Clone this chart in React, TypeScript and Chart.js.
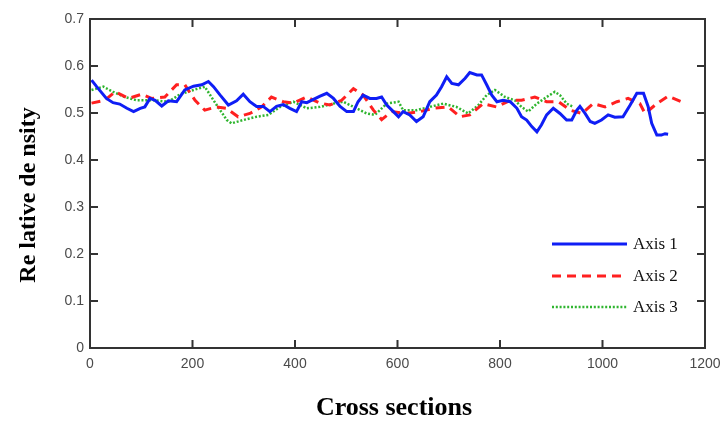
import React, { useEffect, useRef } from "react";
import { Chart, registerables } from "chart.js";

Chart.register(...registerables);

const seriesNames = ["Axis 1", "Axis 2", "Axis 3"];

const axis1X = [3, 13, 32, 45, 58, 72, 85, 98, 107, 117, 127, 140, 153, 169, 185, 202, 218, 231, 241, 254, 270, 286, 299, 312, 325, 338, 351, 364, 377, 390, 403, 413, 423, 436, 449, 462, 475, 488, 501, 514, 523, 533, 546, 559, 569, 579, 592, 602, 611, 624, 637, 650, 663, 676, 686, 696, 706, 719, 732, 741, 755, 764, 774, 784, 794, 806, 820, 833, 842, 852, 862, 872, 881, 891, 904, 917, 930, 940, 950, 956, 966, 976, 985, 998, 1011, 1024, 1040, 1054, 1067, 1080, 1089, 1096, 1106, 1115, 1122, 1128];
const axis1Y = [0.570, 0.556, 0.531, 0.522, 0.519, 0.510, 0.503, 0.510, 0.513, 0.531, 0.527, 0.515, 0.526, 0.524, 0.549, 0.557, 0.560, 0.567, 0.556, 0.538, 0.517, 0.526, 0.540, 0.524, 0.514, 0.514, 0.503, 0.514, 0.518, 0.510, 0.503, 0.524, 0.522, 0.529, 0.536, 0.542, 0.531, 0.514, 0.503, 0.503, 0.524, 0.538, 0.531, 0.531, 0.534, 0.517, 0.503, 0.492, 0.503, 0.496, 0.482, 0.492, 0.524, 0.538, 0.556, 0.577, 0.563, 0.560, 0.574, 0.586, 0.581, 0.581, 0.560, 0.538, 0.524, 0.527, 0.524, 0.510, 0.492, 0.485, 0.471, 0.460, 0.475, 0.496, 0.510, 0.499, 0.485, 0.485, 0.506, 0.514, 0.499, 0.482, 0.478, 0.485, 0.496, 0.491, 0.492, 0.517, 0.542, 0.542, 0.514, 0.478, 0.453, 0.453, 0.456, 0.455];

const axis2X = [3, 29, 49, 75, 101, 120, 146, 169, 185, 205, 224, 247, 266, 289, 312, 335, 354, 377, 397, 423, 449, 468, 491, 514, 533, 553, 569, 589, 618, 644, 670, 699, 722, 741, 767, 793, 820, 842, 868, 891, 914, 937, 960, 982, 1005, 1028, 1050, 1073, 1083, 1106, 1128, 1154];
const axis2Y = [0.521, 0.527, 0.545, 0.531, 0.540, 0.531, 0.534, 0.560, 0.560, 0.527, 0.506, 0.513, 0.510, 0.492, 0.499, 0.513, 0.534, 0.524, 0.521, 0.534, 0.521, 0.517, 0.527, 0.552, 0.538, 0.506, 0.486, 0.503, 0.499, 0.503, 0.510, 0.513, 0.492, 0.496, 0.520, 0.513, 0.527, 0.527, 0.534, 0.524, 0.524, 0.506, 0.499, 0.520, 0.513, 0.524, 0.531, 0.520, 0.499, 0.520, 0.536, 0.524];

const axis3X = [3, 26, 45, 68, 91, 124, 153, 176, 202, 224, 241, 254, 267, 276, 299, 325, 348, 371, 397, 423, 449, 475, 494, 520, 540, 556, 579, 602, 611, 637, 663, 689, 715, 738, 758, 774, 790, 810, 829, 842, 855, 872, 891, 907, 917, 930, 943];
const axis3Y = [0.549, 0.556, 0.545, 0.534, 0.527, 0.527, 0.524, 0.540, 0.549, 0.556, 0.527, 0.506, 0.485, 0.478, 0.485, 0.492, 0.496, 0.513, 0.524, 0.510, 0.513, 0.520, 0.524, 0.510, 0.499, 0.496, 0.520, 0.524, 0.506, 0.506, 0.513, 0.520, 0.513, 0.499, 0.517, 0.538, 0.549, 0.534, 0.527, 0.513, 0.503, 0.520, 0.534, 0.545, 0.538, 0.520, 0.513];

const xTickLabels = ["0", "200", "400", "600", "800", "1000", "1200"];
const yTickLabels = ["0", "0.1", "0.2", "0.3", "0.4", "0.5", "0.6", "0.7"];

const xTitle = "Cross sections";
const yTitle = "Re lative de nsity";

const toPoints = (xs: number[], ys: number[]) => xs.map((x, i) => ({ x, y: ys[i] }));

const framePlugin = {
  id: "frameAndDecor",
  afterDatasetsDraw(chart: any) {
    const { ctx, chartArea } = chart;
    const { left, right, top, bottom } = chartArea;
    const xs = chart.scales.x;
    const ys = chart.scales.y;
    ctx.save();
    ctx.strokeStyle = "#333333";
    ctx.lineWidth = 2;
    ctx.setLineDash([]);
    ctx.strokeRect(left, top, right - left, bottom - top);
    const tl = 8;
    ctx.beginPath();
    xs.ticks.forEach((t: any) => {
      const px = xs.getPixelForValue(t.value);
      ctx.moveTo(px, bottom);
      ctx.lineTo(px, bottom - tl);
      ctx.moveTo(px, top);
      ctx.lineTo(px, top + tl);
    });
    ys.ticks.forEach((t: any) => {
      const py = ys.getPixelForValue(t.value);
      ctx.moveTo(left, py);
      ctx.lineTo(left + tl, py);
      ctx.moveTo(right, py);
      ctx.lineTo(right - tl, py);
    });
    ctx.stroke();

    // legend
    const legX0 = 552;
    const legX1 = 627;
    const rowY = [244, 276, 307];
    chart.data.datasets.forEach((ds: any, i: number) => {
      ctx.beginPath();
      ctx.strokeStyle = ds.borderColor;
      ctx.lineWidth = ds.borderWidth;
      ctx.setLineDash(ds.borderDash || []);
      ctx.moveTo(legX0, rowY[i]);
      ctx.lineTo(legX1, rowY[i]);
      ctx.stroke();
      ctx.setLineDash([]);
      ctx.fillStyle = "#111111";
      ctx.font = "17px 'Liberation Serif', serif";
      ctx.textAlign = "left";
      ctx.textBaseline = "middle";
      ctx.fillText(ds.label, 633, rowY[i] + 1);
    });

    // axis titles
    ctx.fillStyle = "#000000";
    ctx.font = "bold 26px 'Liberation Serif', serif";
    ctx.textAlign = "center";
    ctx.textBaseline = "alphabetic";
    ctx.fillText(xTitle, 394, 415);

    ctx.save();
    ctx.translate(35, 195);
    ctx.rotate(-Math.PI / 2);
    ctx.font = "bold 24px 'Liberation Serif', serif";
    ctx.fillText(yTitle, 0, 0);
    ctx.restore();

    ctx.restore();
  },
};

export default function App() {
  const ref = useRef<HTMLCanvasElement | null>(null);
  useEffect(() => {
    if (!ref.current) return;
    const chart = new Chart(ref.current, {
      type: "line",
      data: {
        datasets: [
          {
            label: seriesNames[0],
            data: toPoints(axis1X, axis1Y),
            borderColor: "#0f1ef5",
            borderWidth: 3,
            pointRadius: 0,
            tension: 0,
            fill: false,
          },
          {
            label: seriesNames[1],
            data: toPoints(axis2X, axis2Y),
            borderColor: "#ff2020",
            borderWidth: 3,
            borderDash: [9, 6],
            pointRadius: 0,
            tension: 0,
            fill: false,
          },
          {
            label: seriesNames[2],
            data: toPoints(axis3X, axis3Y),
            borderColor: "#2fb52f",
            borderWidth: 2.5,
            borderDash: [2, 1.8],
            pointRadius: 0,
            tension: 0,
            fill: false,
          },
        ],
      },
      options: {
        responsive: false,
        animation: false,
        devicePixelRatio: 1,
        layout: { padding: { top: 19, right: 19, left: 0, bottom: 0 } },
        plugins: { legend: { display: false }, tooltip: { enabled: false } },
        scales: {
          x: {
            type: "linear",
            min: 0,
            max: 1200,
            afterFit: (s: any) => {
              s.height = 77;
              s.paddingLeft = 0;
              s.paddingRight = 0;
            },
            grid: { display: false, drawTicks: false },
            border: { display: false },
            ticks: {
              stepSize: 200,
              padding: 8,
              maxRotation: 0,
              color: "#4a4a4a",
              font: { family: "'Liberation Sans', sans-serif", size: 14 },
              callback: (_v: any, i: number) => xTickLabels[i],
            },
          },
          y: {
            type: "linear",
            min: 0,
            max: 0.7,
            afterFit: (s: any) => {
              s.width = 90;
              s.paddingTop = 0;
              s.paddingBottom = 0;
            },
            grid: { display: false, drawTicks: false },
            border: { display: false },
            ticks: {
              stepSize: 0.1,
              padding: 6,
              color: "#4a4a4a",
              font: { family: "'Liberation Sans', sans-serif", size: 14 },
              callback: (_v: any, i: number) => yTickLabels[i],
            },
          },
        },
      },
      plugins: [framePlugin],
    });
    return () => chart.destroy();
  }, []);
  return (
    <div style={{ position: "fixed", left: 0, top: 0, width: 724, height: 425, background: "#fff" }}>
      <canvas ref={ref} width={724} height={425} />
    </div>
  );
}
